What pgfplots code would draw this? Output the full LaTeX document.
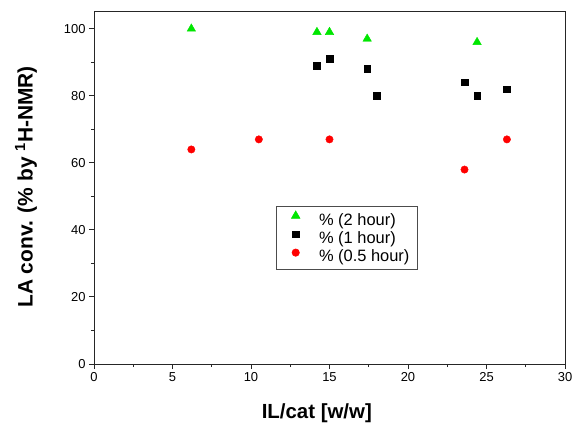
\documentclass[border=0pt]{standalone}
\usepackage{fontspec}
\setmainfont{Liberation Sans}
\usepackage{pgfplots}
\pgfplotsset{compat=1.18}

\begin{document}
\begin{tikzpicture}
\begin{axis}[
  name=ax,
  scale only axis,
  width=471bp, height=352bp,
  xmin=0, xmax=30, ymin=0, ymax=105,
  xtick={0,5,...,30}, ytick={0,20,...,100},
  minor x tick num=1, minor y tick num=1,
  tick align=outside, tick pos=left,
  major tick length=5bp, minor tick length=3bp,
  every tick/.style={black!85, line width=1pt},
  axis line style={line width=1pt, black!85},
  tick label style={font=\fontsize{13}{15}\selectfont},
  /pgf/number format/assume math mode=true,
  xlabel={\bfseries IL/cat [w/w]},
  ylabel={\bfseries LA conv. (\% by \textsuperscript{1}H-NMR)},
  label style={font=\fontsize{21}{24}\selectfont},
  xlabel style={at={(axis description cs:0.473,0)}, anchor=base, yshift=-54bp, font=\fontsize{20.5}{24}\selectfont},
  ylabel style={at={(axis description cs:0,0.503)}, anchor=center, yshift=68bp},
  legend style={at={(axis cs:11.6,47.0)}, anchor=north west,
    draw=black!70, line width=0.6pt, font=\fontsize{16.5}{18}\selectfont,
    row sep=1bp, inner xsep=0pt, inner ysep=4.2bp},
  legend cell align=left,
  legend image code/.code={\path (0bp,0bp) (40bp,0bp); \draw[#1] plot coordinates {(19bp,4bp)};},
]
\addplot[only marks, mark=triangle*, mark size=4.9bp, color={rgb,255:red,0;green,230;blue,0}]
  coordinates {(6.2,100) (14.2,99) (15,99) (17.4,97) (24.4,96)};
\addlegendentry{\% (2 hour)}
\addplot[only marks, mark=square*, mark size=3.3bp, black]
  coordinates {(14.2,89) (15,91) (17.4,88) (18,80) (23.6,84) (24.4,80) (26.3,82)};
\addlegendentry{\% (1 hour)}
\addplot[only marks, mark=*, mark size=3.7bp, color={rgb,255:red,255;green,0;blue,0}]
  coordinates {(6.2,64) (10.5,67) (15,67) (23.6,58) (26.3,67)};
\addlegendentry{\% (0.5 hour)\rule{6bp}{0pt}}
\draw[line width=1pt, black!85] (rel axis cs:0,0) rectangle (rel axis cs:1,1);
\end{axis}
\pgfresetboundingbox
\path ([shift={(-94bp,-60bp)}]ax.south west) rectangle ([shift={(8bp,12bp)}]ax.north east);
\end{tikzpicture}
\end{document}
